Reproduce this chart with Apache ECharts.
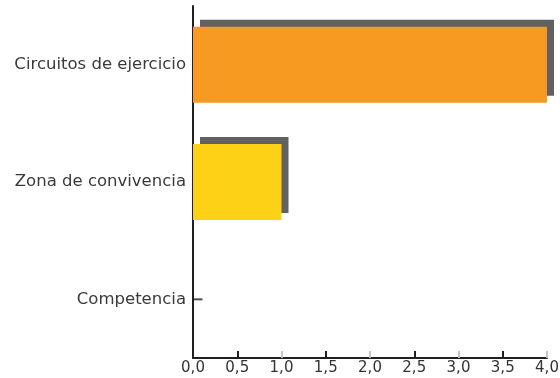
<!DOCTYPE html>
<html><head><meta charset="utf-8">
<script src="https://cdn.jsdelivr.net/npm/echarts@6/dist/echarts.min.js"></script>
<style>html,body{margin:0;padding:0;background:#fff}#c{width:560px;height:378px}</style>
</head><body><div id="c"></div>
<script>
var categories = ['Circuitos de ejercicio', 'Zona de convivencia', 'Competencia'];
var values = [4.0, 1.0, 0];
var barColors = ['#f69a22', '#fdd116', '#fdd116'];

var font = '"DejaVu Sans", sans-serif';
var chart = echarts.init(document.getElementById('c'));
chart.setOption({
  animation: false,
  grid: {left: 193, right: 13, top: 6, bottom: 20, outerBoundsMode: 'none', containLabel: false},
  xAxis: [{
    type: 'value', min: 0, max: 4, interval: 0.5,
    axisLine: {show: true, lineStyle: {color: '#231f20', width: 2}},
    axisTick: {show: true, inside: true, length: 7, customValues: [1, 2, 3, 4], lineStyle: {color: '#c4c4c4', width: 2}},
    axisLabel: {color: '#333', fontFamily: font, fontSize: 15, margin: 3,
      formatter: function (v) { return v.toFixed(1).replace('.', ','); }},
    splitLine: {show: false}
  }, {
    type: 'value', min: 0, max: 4, interval: 0.5, position: 'bottom',
    axisLine: {show: false},
    axisTick: {show: true, inside: true, length: 7, customValues: [0.5, 1.5, 2.5, 3.5], lineStyle: {color: '#231f20', width: 2}},
    axisLabel: {show: false}, splitLine: {show: false}
  }],
  yAxis: {
    type: 'category', data: categories, inverse: true,
    axisLine: {show: true, lineStyle: {color: '#231f20', width: 2}},
    axisTick: {show: false},
    axisLabel: {color: '#3a3a3a', fontFamily: font, fontSize: 16.5, margin: 7}
  },
  series: [{
    type: 'bar', barWidth: 76,
    data: values.map(function (v, i) {
      return {value: v, itemStyle: {color: barColors[i]}};
    }),
    itemStyle: {shadowColor: '#616161', shadowBlur: 0, shadowOffsetX: 7, shadowOffsetY: -7},
    z: 1
  }, {
    type: 'scatter', symbol: 'rect', symbolSize: [9, 2], symbolOffset: [5, 0],
    data: values.map(function (v, i) { return v === 0 ? [v, categories[i]] : null; }).filter(Boolean),
    itemStyle: {color: '#231f20'}, silent: true, z: 5
  }]
});
</script></body></html>
